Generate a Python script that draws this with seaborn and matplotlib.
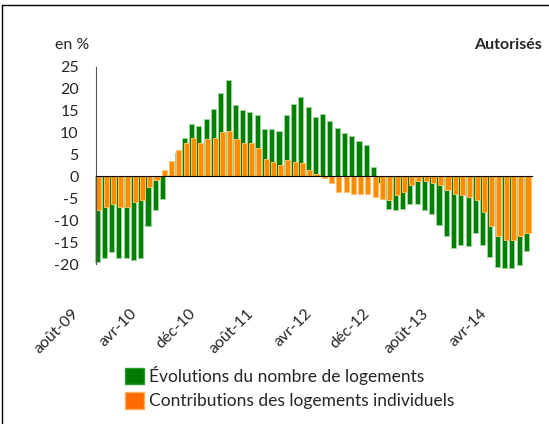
import numpy as np
import pandas as pd
import seaborn as sns
import matplotlib.pyplot as plt
import matplotlib.transforms as mtransforms
from matplotlib.patches import Patch
from matplotlib.lines import Line2D

# Évolutions mensuelles (en %), août-09 -> juil-14
evolutions = [-19.5, -18.7, -17.2, -18.7, -18.7, -19.1, -18.7, -11.3, -7.8, -5.2,
              0.2, 5.3, 8.8, 11.9, 11.4, 13.1, 15.4, 18.9, 21.9, 16.2,
              15.0, 14.6, 13.9, 10.7, 10.7, 10.3, 13.9, 16.5, 18.0, 15.8,
              13.4, 14.2, 12.6, 11.0, 9.9, 9.1, 8.0, 7.2, 2.1, -1.6,
              -7.5, -7.8, -7.5, -6.3, -6.3, -7.8, -8.6, -11.0, -13.6, -16.4,
              -15.6, -16.0, -12.9, -15.6, -18.3, -20.6, -21.0, -21.0, -20.2, -17.1]
contributions = [-7.8, -7.1, -6.3, -7.1, -7.1, -5.9, -5.4, -2.4, -0.8, 1.4,
                 3.4, 6.0, 7.6, 8.8, 7.6, 8.4, 8.8, 10.0, 10.3, 8.4,
                 7.6, 7.6, 6.4, 4.0, 3.3, 2.5, 3.7, 3.3, 2.9, 1.4,
                 0.5, -0.5, -1.6, -3.6, -3.6, -4.0, -4.0, -4.0, -4.7, -5.1,
                 -5.5, -4.3, -3.6, -2.0, -1.2, -1.2, -1.6, -2.0, -3.1, -4.0,
                 -4.3, -4.7, -5.5, -8.2, -11.3, -13.6, -14.5, -14.5, -13.6, -12.9]
tick_labels = ["août-09", "avr-10", "déc-10", "août-11",
               "avr-12", "déc-12", "août-13", "avr-14"]
series_names = ["Évolutions du nombre de logements",
                "Contributions des logements individuels"]

df = pd.DataFrame({"mois": np.arange(len(evolutions)),
                   "evol": evolutions, "contrib": contributions})

sns.set_style("white")
plt.rcParams["font.family"] = ["Lato", "DejaVu Sans"]
plt.rcParams["axes.unicode_minus"] = False

fig = plt.figure(figsize=(5.49, 4.24), dpi=100)
ax = fig.add_axes([95.5 / 549, 1 - 264 / 424, (532 - 95.5) / 549, (264 - 66.5) / 424])

sns.barplot(x=df["mois"] + 0.22, y=df["evol"], native_scale=True, width=0.7,
            color="#008000", saturation=1, edgecolor="#9CD39C", linewidth=0.7,
            errorbar=None, ax=ax)
sns.barplot(x=df["mois"] + 0.45, y=df["contrib"], native_scale=True, width=0.7,
            color="#FF8C00", saturation=1, edgecolor="#FFC266", linewidth=0.7,
            errorbar=None, ax=ax)
for p in ax.patches:
    p.set_clip_on(False)

ax.set_xlim(0, 60)
ax.set_ylim(-20, 25)
ax.set_xlabel("")
ax.set_ylabel("")

for s in ["top", "right"]:
    ax.spines[s].set_visible(False)
ax.spines["left"].set_color("#555555")
ax.spines["bottom"].set_position(("data", 0))
ax.spines["bottom"].set_color("black")
ax.spines["bottom"].set_zorder(5)

ax.set_yticks(range(-20, 30, 5))
ax.tick_params(axis="y", direction="out", length=3.6, color="#555555",
               labelsize=11.5, pad=8.5)
tick_pos = list(range(0, 60, 8))
ax.set_xticks(tick_pos)
ax.set_xticklabels([])
ax.tick_params(axis="x", direction="out", length=5, width=1, color="black")

trans = mtransforms.blended_transform_factory(ax.transData, ax.transAxes)
trans = trans + mtransforms.ScaledTranslation(-0.185, -0.47, fig.dpi_scale_trans)
for pos, lab in zip(tick_pos, tick_labels):
    ax.text(pos, 0, lab, transform=trans, rotation=45, ha="right", va="center",
            rotation_mode="anchor", fontsize=11.5)

fig.text(55 / 549, 1 - 45 / 424, "en %", va="center", fontsize=11.5)
fig.text(542 / 549, 1 - 45 / 424, "Autorisés", ha="right", va="center",
         fontsize=11.5, fontweight="bold")

handles = [Patch(facecolor="#007A00", edgecolor="#2E9A2E"),
           Patch(facecolor="#FF6A00", edgecolor="#FFB060")]
fig.legend(handles=handles, labels=series_names, loc="upper left",
           bbox_to_anchor=(125 / 549, 1 - 366 / 424), frameon=False,
           borderaxespad=0, borderpad=0, handlelength=1.1, handleheight=1.1,
           handletextpad=0.3, labelspacing=0.4, fontsize=12.5)

# cadre
fig.add_artist(Line2D([1.5 / 549, 1.5 / 549], [0, 1 - 5 / 424],
                      transform=fig.transFigure, color="black", lw=1))
fig.add_artist(Line2D([1.5 / 549, 1], [1 - 5 / 424, 1 - 5 / 424],
                      transform=fig.transFigure, color="black", lw=1))

fig.savefig("out.png", dpi=100)
